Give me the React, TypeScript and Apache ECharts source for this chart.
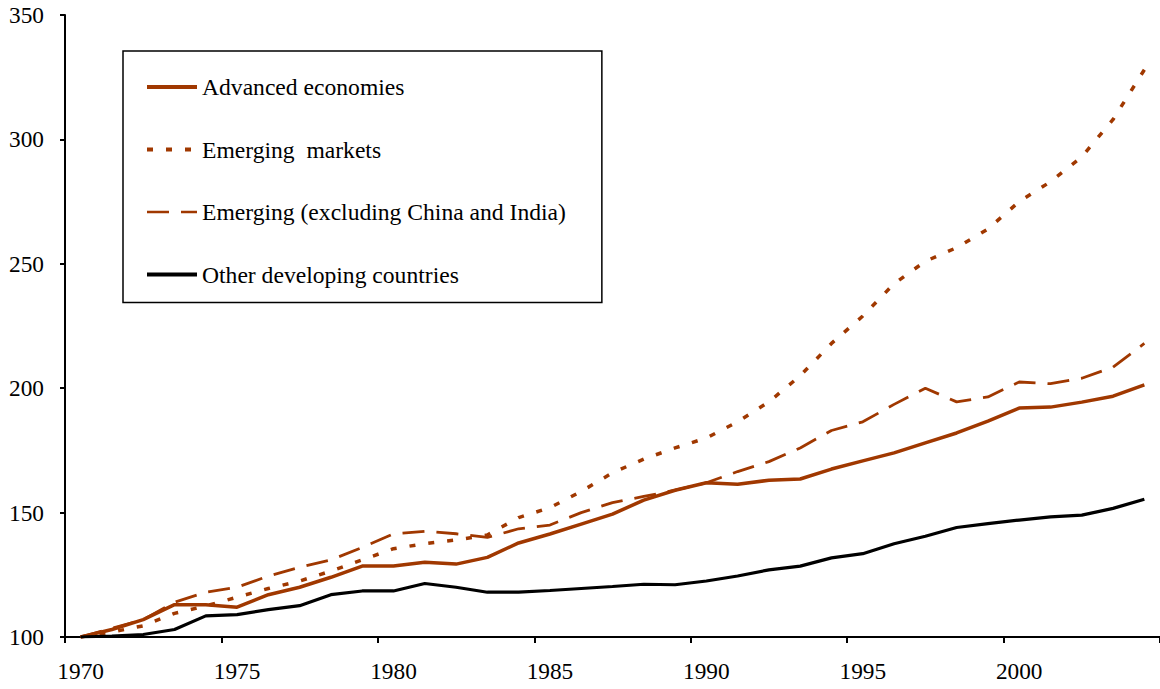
import React, { useEffect, useRef } from "react";
import * as echarts from "echarts";

const years: string[] = [
  "1970", "1971", "1972", "1973", "1974", "1975", "1976", "1977", "1978", "1979",
  "1980", "1981", "1982", "1983", "1984", "1985", "1986", "1987", "1988", "1989",
  "1990", "1991", "1992", "1993", "1994", "1995", "1996", "1997", "1998", "1999",
  "2000", "2001", "2002", "2003", "2004",
];

const advanced: number[] = [
  100, 103, 107, 113, 113, 112, 117, 120, 124, 128.5,
  128.5, 130, 129.3, 132, 137.8, 141.4, 145.4, 149.4, 155, 159,
  162, 161.4, 163, 163.5, 167.5, 170.8, 174, 178, 182, 186.8,
  192, 192.4, 194.4, 196.8, 201.3,
];

const emerging: number[] = [
  100, 102, 104.5, 109.5, 112.5, 116, 119.5, 122.5, 126.5, 131,
  135.5, 137.5, 139, 141, 148, 152, 158.5, 166, 171.5, 176,
  180, 186.5, 194.5, 205, 218, 229, 242, 251, 256.5, 264,
  275, 283, 293, 308, 328,
];

const emergingExCI: number[] = [
  100, 103.5, 107, 114, 118, 120, 124.5, 128, 131, 136,
  141.5, 142.5, 141.5, 140, 143.5, 145, 150, 154, 156.5, 159,
  162, 166.5, 170.5, 176, 183, 186.5, 193.5, 200, 194.5, 196.5,
  202.5, 201.8, 204, 208.5, 218,
];

const otherDeveloping: number[] = [
  100, 100.4, 101, 103, 108.5, 109, 111, 112.6, 117, 118.5,
  118.5, 121.5, 120, 118, 118, 118.7, 119.5, 120.3, 121.2, 121,
  122.5, 124.5, 127, 128.5, 131.8, 133.5, 137.5, 140.5, 144, 145.6,
  147, 148.3, 149, 151.7, 155.4,
];

const seriesNames: string[] = [
  "Advanced economies",
  "Emerging  markets",
  "Emerging (excluding China and India)",
  "Other developing countries",
];

const yTicks = { min: 100, max: 350, interval: 50 };

const BROWN = "#A03800";
const FONT = "'Liberation Serif', 'Times New Roman', serif";

export default function App() {
  const ref = useRef<HTMLDivElement>(null);

  useEffect(() => {
    document.body.style.margin = "0";
    if (!ref.current) return;
    const chart = echarts.init(ref.current, null, { renderer: "svg" });
    chart.setOption({
      animation: false,
      backgroundColor: "#fff",
      grid: { left: 65, top: 15, width: 1101, height: 622, containLabel: false },
      legend: {
        orient: "vertical",
        left: 123,
        top: 51,
        padding: [24, 36, 16, 22],
        itemGap: 38.5,
        itemWidth: 50,
        itemHeight: 14,
        borderColor: "#000",
        borderWidth: 1.5,
        backgroundColor: "#fff",
        itemStyle: { color: "rgba(0,0,0,0)", borderWidth: 0 },
        textStyle: { fontFamily: FONT, fontSize: 23.6, color: "#000" },
        data: [
          { name: seriesNames[0], lineStyle: { width: 4 } },
          { name: seriesNames[1], lineStyle: { width: 4 } },
          { name: seriesNames[2], lineStyle: { width: 2.5 } },
          { name: seriesNames[3], lineStyle: { width: 4 } },
        ],
      },
      xAxis: {
        type: "category",
        data: years,
        boundaryGap: true,
        axisLine: { lineStyle: { color: "#000", width: 2 } },
        axisTick: { show: true, interval: 4, length: 6, alignWithLabel: false, lineStyle: { color: "#000", width: 2 } },
        axisLabel: { interval: 4, margin: 22, fontFamily: FONT, fontSize: 23.3, color: "#000" },
        splitLine: { show: false },
      },
      yAxis: {
        type: "value",
        min: yTicks.min,
        max: yTicks.max,
        interval: yTicks.interval,
        axisLine: { show: true, lineStyle: { color: "#000", width: 2 } },
        axisTick: { show: true, length: 5, lineStyle: { color: "#000", width: 2 } },
        axisLabel: { margin: 21, fontFamily: FONT, fontSize: 23.3, color: "#000" },
        splitLine: { show: false },
      },
      series: [
        {
          name: seriesNames[0],
          type: "line",
          data: advanced,
          symbol: "none",
          lineStyle: { color: BROWN, width: 3.5, type: "solid" },
          itemStyle: { color: BROWN },
          z: 4,
        },
        {
          name: seriesNames[1],
          type: "line",
          data: emerging,
          symbol: "none",
          lineStyle: { color: BROWN, width: 3.5, type: [6, 13] },
          itemStyle: { color: BROWN },
          z: 3,
        },
        {
          name: seriesNames[2],
          type: "line",
          data: emergingExCI,
          symbol: "none",
          lineStyle: { color: BROWN, width: 2.8, type: [22, 12] },
          itemStyle: { color: BROWN },
          z: 3,
        },
        {
          name: seriesNames[3],
          type: "line",
          data: otherDeveloping,
          symbol: "none",
          lineStyle: { color: "#000", width: 3.2, type: "solid" },
          itemStyle: { color: "#000" },
          z: 5,
        },
      ],
    });
    return () => chart.dispose();
  }, []);

  return <div ref={ref} style={{ width: 1160, height: 689 }} />;
}
